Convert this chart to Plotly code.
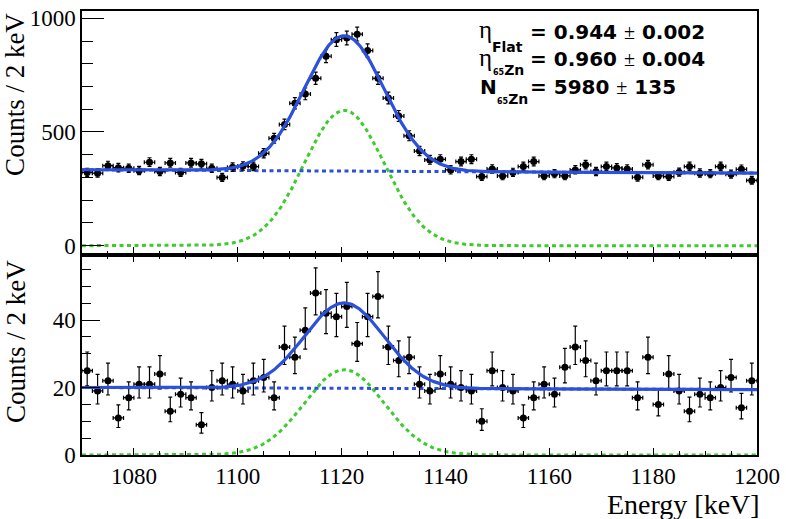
import numpy as np
import plotly.graph_objects as go

# ---------------- data ----------------
bin_centers = list(range(1071, 1200, 2))  # 2 keV bins, 1070-1200

counts_flat = [322, 319, 352, 343, 340, 330, 367, 326, 364, 322,
               364, 360, 340, 300, 345, 350, 348, 406, 472, 533,
               626, 667, 736, 833, 906, 913, 930, 858, 736, 649,
               570, 483, 416, 377, 380, 333, 370, 380, 304, 337,
               307, 322, 348, 370, 307, 316, 307, 333, 356, 326,
               348, 342, 337, 301, 356, 307, 304, 323, 348, 319,
               316, 348, 314, 336, 287]

counts_zn = [25, 19, 22, 11, 17, 21, 21, 24, 13, 18,
             17, 9, 20, 22, 21, 19, 22, 23, 17, 32,
             29, 37, 48, 42, 41, 44, 33, 41, 47, 32,
             28, 29, 21, 19, 24, 21, 20, 19, 10, 25,
             20, 19, 11, 17, 21, 18, 26, 32, 28, 22,
             25, 25, 25, 17, 29, 15, 24, 19, 13, 18,
             17, 20, 23, 14, 22]

# fit parameters
fit_flat = dict(bg0=334.0, bg_slope=-0.115, amp=595.0, mean=1120.5, sigma=7.7)
fit_zn = dict(bg0=20.0, bg_slope=-0.0046, amp=25.3, mean=1120.5, sigma=7.7)

x_range = [1070, 1200]
y_range_top = [-42, 1032]
y_range_bot = [0, 59.2]

# ---------------- helpers ----------------
W, H = 786, 519
L, R, T, B = 82, 761, 6, 455
SPLIT = 253
SERIF = "Times New Roman, Liberation Serif, DejaVu Serif, serif"
SANS = "DejaVu Sans, Arial, sans-serif"


def px_x(px):
    return (px - L) / (R - L)


def px_y(py):
    return (B - py) / (B - T)


E = np.linspace(x_range[0], x_range[1], 521)


def bg(p):
    return p["bg0"] + p["bg_slope"] * (E - x_range[0])


def sig(p):
    return p["amp"] * np.exp(-0.5 * ((E - p["mean"]) / p["sigma"]) ** 2)


BLUE = "#2a50dc"
GREEN = "#3ccc2c"
DASH = "4px,3.5px"

fig = go.Figure()


def add_panel(counts, p, xa, ya):
    c = np.array(counts, dtype=float)
    up = 0.5 + np.sqrt(c + 0.25)
    dn = -0.5 + np.sqrt(c + 0.25)
    fig.add_trace(go.Scatter(x=E, y=sig(p), mode="lines", xaxis=xa, yaxis=ya,
                             line=dict(color=GREEN, width=3, dash=DASH),
                             hoverinfo="skip", showlegend=False))
    fig.add_trace(go.Scatter(x=E, y=bg(p), mode="lines", xaxis=xa, yaxis=ya,
                             line=dict(color=BLUE, width=3, dash=DASH),
                             hoverinfo="skip", showlegend=False))
    fig.add_trace(go.Scatter(
        x=bin_centers, y=counts, mode="markers", xaxis=xa, yaxis=ya,
        marker=dict(color="black", size=7),
        error_y=dict(type="data", symmetric=False, array=up, arrayminus=dn,
                     color="black", thickness=1.2, width=2),
        error_x=dict(type="constant", value=1, color="black", thickness=1.2, width=2),
        showlegend=False))
    fig.add_trace(go.Scatter(x=E, y=bg(p) + sig(p), mode="lines", xaxis=xa, yaxis=ya,
                             line=dict(color=BLUE, width=3.2),
                             hoverinfo="skip", showlegend=False))


add_panel(counts_flat, fit_flat, "x", "y")
add_panel(counts_zn, fit_zn, "x2", "y2")

split = px_y(SPLIT)
tickfont = dict(family=SERIF, size=23, color="black")

common_x = dict(range=x_range, showgrid=False, zeroline=False, linecolor="black",
                linewidth=1.5, ticks="inside", tickcolor="black", tickwidth=1.2,
                dtick=20, tick0=1080, tickfont=tickfont,
                minor=dict(dtick=5, ticks="inside", ticklen=4, tickcolor="black", tickwidth=1))

fig.update_layout(
    width=W, height=H,
    margin=dict(l=L, r=W - R, t=T, b=H - B),
    paper_bgcolor="white", plot_bgcolor="white",
    showlegend=False,
    font=dict(family=SERIF, color="black"),
    xaxis=dict(common_x, anchor="y", domain=[0, 1], showticklabels=False,
               ticklen=8, mirror=True),
    xaxis2=dict(common_x, anchor="y2", domain=[0, 1], showticklabels=True,
                ticklen=7, mirror="ticks"),
    yaxis=dict(domain=[split, 1], anchor="x", range=y_range_top, showgrid=False,
               zeroline=False, linecolor="black", linewidth=1.5, mirror=True,
               ticks="inside", ticklen=22, tickwidth=1.2, tickcolor="black",
               tickvals=[0, 500, 1000], tickfont=tickfont,
               minor=dict(dtick=100, ticks="inside", ticklen=11, tickcolor="black", tickwidth=1)),
    yaxis2=dict(domain=[0, split], anchor="x2", range=y_range_bot, showgrid=False,
                zeroline=False, linecolor="black", linewidth=1.5, mirror=True,
                ticks="inside", ticklen=18, tickwidth=1.2, tickcolor="black",
                tickvals=[0, 20, 40], tickfont=tickfont,
                minor=dict(dtick=5, ticks="inside", ticklen=9, tickcolor="black", tickwidth=1)),
)

anns = []


def ann(text, px, py, size, family=SANS, weight="bold", xanchor="left",
        yanchor="middle", angle=0):
    anns.append(dict(text=text, x=px_x(px), y=px_y(py), xref="paper", yref="paper",
                     xanchor=xanchor, yanchor=yanchor, showarrow=False, textangle=angle,
                     borderpad=0,
                     font=dict(family=family, size=size, color="black", weight=weight)))


PM = '<span style="font-family:\'Liberation Serif\';font-weight:normal">±</span>'
ZN = '<span style="font-size:8px">65</span>Zn'

# axis titles
ann("Counts / 2 keV", 15, 7, 27, family=SERIF, weight="normal",
    xanchor="center", yanchor="top", angle=-90)
ann("Counts / 2 keV", 15, 257, 27, family=SERIF, weight="normal",
    xanchor="center", yanchor="top", angle=-90)
ann("Energy [keV]", 765, 505, 28, family=SERIF, weight="normal",
    xanchor="right", yanchor="middle")

# fit results box
ann("η", 480, 25, 25, family=SERIF, weight="normal")
ann("Flat", 493, 42, 14)
ann("= 0.944 " + PM + " 0.002", 532, 27, 20)

ann("η", 480, 53, 25, family=SERIF, weight="normal")
ann(ZN, 494, 66, 14)
ann("= 0.960 " + PM + " 0.004", 532, 55, 20)

ann("N", 481, 82.5, 20)
ann(ZN, 498, 95, 14)
ann("= 5980 " + PM + " 135", 532, 82.5, 20)

fig.update_layout(annotations=anns)

fig.write_html("out.html", config={"displayModeBar": False},
               post_script="document.body.style.margin='0px';")
